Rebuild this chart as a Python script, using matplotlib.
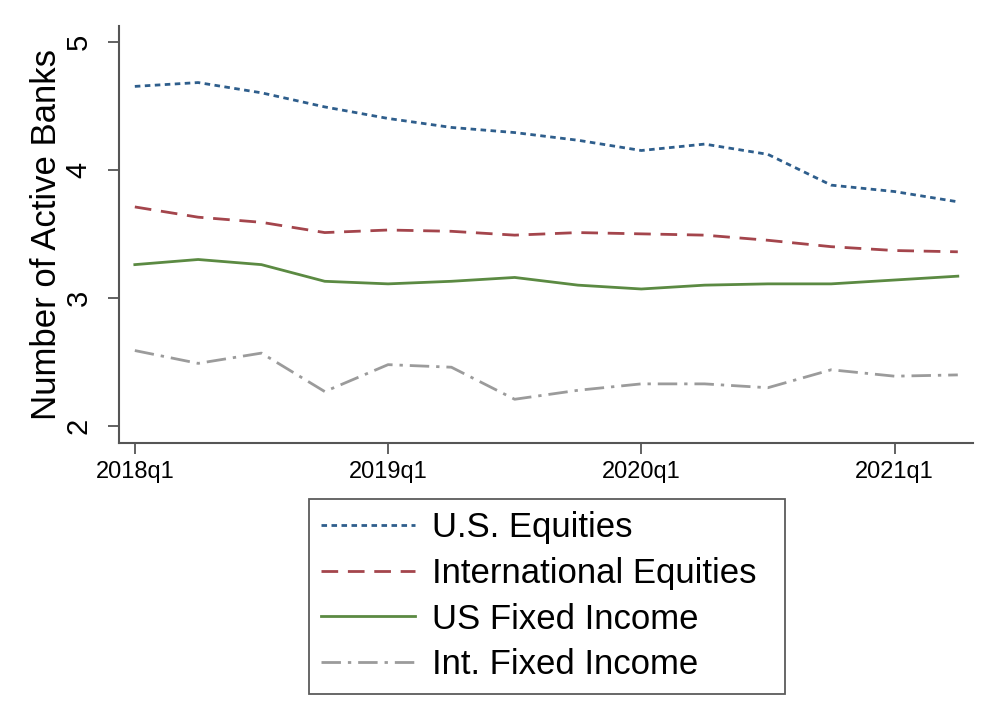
import numpy as np
import matplotlib
matplotlib.use('Agg')
import matplotlib.pyplot as plt

plt.rcParams['font.family'] = ['Liberation Sans', 'DejaVu Sans']

# quarterly data, 2018q1 .. 2021q2
quarters = ['2018q1', '2018q2', '2018q3', '2018q4',
            '2019q1', '2019q2', '2019q3', '2019q4',
            '2020q1', '2020q2', '2020q3', '2020q4',
            '2021q1', '2021q2']
tick_labels = ['2018q1', '2019q1', '2020q1', '2021q1']

us_equities = [4.65, 4.68, 4.60, 4.49, 4.40, 4.33, 4.29, 4.23,
               4.15, 4.20, 4.12, 3.88, 3.83, 3.75]
intl_equities = [3.71, 3.63, 3.59, 3.51, 3.53, 3.52, 3.49, 3.51,
                 3.50, 3.49, 3.45, 3.40, 3.37, 3.36]
us_fixed = [3.26, 3.30, 3.26, 3.13, 3.11, 3.13, 3.16, 3.10,
            3.07, 3.10, 3.11, 3.11, 3.14, 3.17]
int_fixed = [2.59, 2.49, 2.57, 2.27, 2.48, 2.46, 2.21, 2.28,
             2.33, 2.33, 2.30, 2.44, 2.39, 2.40]

x = np.arange(len(quarters))

fig = plt.figure(figsize=(10, 7.26), dpi=100)
ax = fig.add_axes([0.119, 0.390, 0.854, 0.574])

ax.plot(x, us_equities, color='#2E5E8C', lw=2.0, dashes=(2.0, 1.6),
        label='U.S. Equities')
ax.plot(x, intl_equities, color='#A4454C', lw=2.0, dashes=(6.0, 3.5),
        label='International Equities')
ax.plot(x, us_fixed, color='#5B8A42', lw=2.0, label='US Fixed Income')
ax.plot(x, int_fixed, color='#9B9B9B', lw=2.0, dashes=(7.0, 2.5, 1.2, 2.5),
        label='Int. Fixed Income')

ax.set_xlim(-0.25, 13.24)
ax.set_ylim(1.87, 5.12)

xt = [quarters.index(t) for t in tick_labels]
ax.set_xticks(xt)
ax.set_xticklabels(tick_labels, fontsize=17)
ax.set_yticks([2, 3, 4, 5])
ax.set_yticklabels(['2', '3', '4', '5'], fontsize=21, rotation=90, va='center')

ax.set_ylabel('Number of Active Banks', fontsize=25, labelpad=1)

for s in ['top', 'right']:
    ax.spines[s].set_visible(False)
for s in ['left', 'bottom']:
    ax.spines[s].set_color('#555555')
    ax.spines[s].set_linewidth(1.5)
ax.tick_params(axis='both', colors='#555555', length=8, width=1.3,
               labelcolor='black', pad=5)
ax.tick_params(axis='y', pad=11)

leg = fig.legend(loc='upper left', bbox_to_anchor=(0.309, 0.048, 0.476, 0.265),
                 mode='expand', fontsize=25, frameon=True, fancybox=False,
                 handlelength=2.7, handletextpad=0.5, labelspacing=0.37,
                 borderpad=0.35, borderaxespad=0)
leg.get_frame().set_edgecolor('#333333')
leg.get_frame().set_linewidth(1.3)

fig.savefig('out.png', dpi=100)
